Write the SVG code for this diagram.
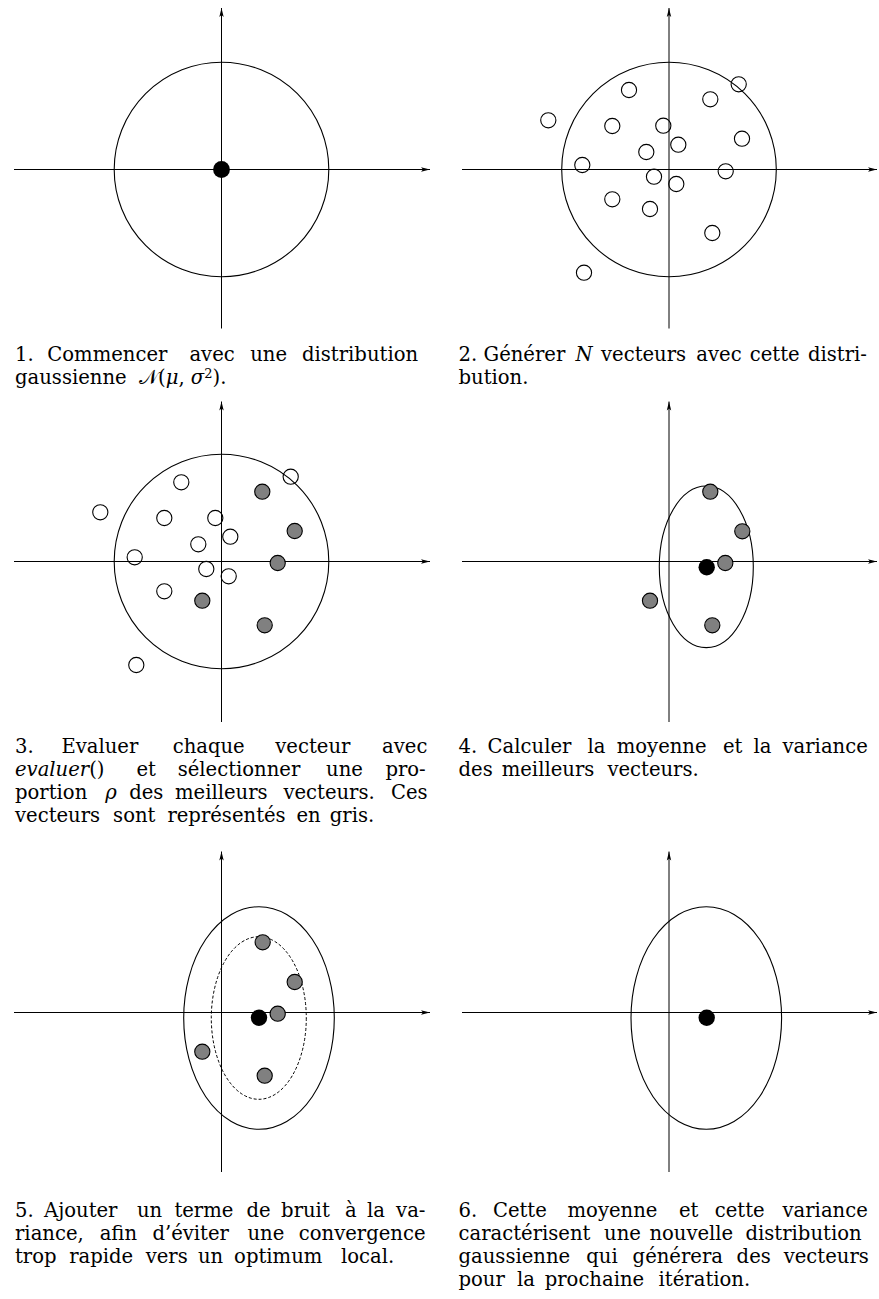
<svg xmlns="http://www.w3.org/2000/svg" width="879" height="1299" viewBox="0 0 879 1299">
<style>
.ax{stroke:#000;stroke-width:1;fill:none;marker-end:url(#arr)}
.big{stroke:#000;stroke-width:1.1;fill:none}
.dash{stroke:#000;stroke-width:1;fill:none;stroke-dasharray:3 2}
.o{stroke:#000;stroke-width:1.1;fill:none}
.g{stroke:#000;stroke-width:1.1;fill:#808080}
.b{fill:#000}
text{font-family:"DejaVu Serif","Liberation Serif",serif;font-size:19.6px;fill:#000}
.i{font-style:italic}
.cal{font-family:"DejaVu Serif","DejaVu Sans",serif;font-style:normal}
</style>
<defs>
<marker id="arr" viewBox="-10 -3 10 6" refX="0" refY="0" markerWidth="10" markerHeight="6" markerUnits="userSpaceOnUse" orient="auto"><path d="M0,0 L-9,-2.2 L-7,0 L-9,2.2 Z" fill="#000"/></marker>
</defs>
<rect width="879" height="1299" fill="#fff"/>

<g id="panel1">
<line class="ax" x1="14" y1="169.5" x2="430" y2="169.5"/>
<line class="ax" x1="221.5" y1="328.5" x2="221.5" y2="8"/>
<circle class="big" cx="221.5" cy="169.5" r="107.3"/>
<circle class="b" cx="221.5" cy="169.5" r="8.4"/>
</g>

<g id="panel2">
<line class="ax" x1="462" y1="169.5" x2="877" y2="169.5"/>
<line class="ax" x1="669" y1="328.5" x2="669" y2="8"/>
<circle class="big" cx="669" cy="169.5" r="107.3"/>
<circle class="o" cx="629" cy="90" r="7.6"/>
<circle class="o" cx="548.3" cy="120.3" r="7.6"/>
<circle class="o" cx="612.3" cy="126" r="7.6"/>
<circle class="o" cx="663.3" cy="125.7" r="7.6"/>
<circle class="o" cx="710.3" cy="99.3" r="7.6"/>
<circle class="o" cx="738.7" cy="84.3" r="7.6"/>
<circle class="o" cx="678.3" cy="144.7" r="7.6"/>
<circle class="o" cx="646.3" cy="152" r="7.6"/>
<circle class="o" cx="742" cy="138.7" r="7.6"/>
<circle class="o" cx="582.3" cy="165" r="7.6"/>
<circle class="o" cx="725.7" cy="171.3" r="7.6"/>
<circle class="o" cx="654" cy="176.7" r="7.6"/>
<circle class="o" cx="676.3" cy="184" r="7.6"/>
<circle class="o" cx="612.3" cy="199.3" r="7.6"/>
<circle class="o" cx="650" cy="209" r="7.6"/>
<circle class="o" cx="712.3" cy="233" r="7.6"/>
<circle class="o" cx="584" cy="272.7" r="7.6"/>
</g>

<g id="panel3">
<line class="ax" x1="14" y1="561.5" x2="430" y2="561.5"/>
<line class="ax" x1="221.5" y1="722" x2="221.5" y2="401.5"/>
<circle class="big" cx="221.5" cy="561.5" r="107.3"/>
<circle class="o" cx="181.3" cy="482.3" r="7.6"/>
<circle class="o" cx="290.7" cy="476.7" r="7.6"/>
<circle class="o" cx="100.3" cy="512.3" r="7.6"/>
<circle class="o" cx="164.3" cy="518" r="7.6"/>
<circle class="o" cx="215.3" cy="518" r="7.6"/>
<circle class="o" cx="230.3" cy="536.7" r="7.6"/>
<circle class="o" cx="198.3" cy="544.3" r="7.6"/>
<circle class="o" cx="134.7" cy="557.3" r="7.6"/>
<circle class="o" cx="206.3" cy="569" r="7.6"/>
<circle class="o" cx="228.7" cy="576.3" r="7.6"/>
<circle class="o" cx="164.3" cy="591.3" r="7.6"/>
<circle class="o" cx="136.3" cy="665" r="7.6"/>
<circle class="g" cx="262.3" cy="491.7" r="7.6"/>
<circle class="g" cx="294.7" cy="531" r="7.6"/>
<circle class="g" cx="277.7" cy="563" r="7.6"/>
<circle class="g" cx="202.3" cy="600.7" r="7.6"/>
<circle class="g" cx="264.7" cy="625.3" r="7.6"/>
</g>

<g id="panel4">
<line class="ax" x1="462" y1="561.5" x2="877" y2="561.5"/>
<line class="ax" x1="669" y1="722" x2="669" y2="401.5"/>
<ellipse class="big" cx="706.3" cy="566.8" rx="47" ry="80.8"/>
<circle class="g" cx="710.3" cy="491.7" r="7.6"/>
<circle class="g" cx="742.3" cy="531.3" r="7.6"/>
<circle class="g" cx="725.3" cy="563" r="7.6"/>
<circle class="g" cx="650" cy="600.7" r="7.6"/>
<circle class="g" cx="712.3" cy="625.3" r="7.6"/>
<circle class="b" cx="706.7" cy="567.3" r="8.2"/>
</g>

<g id="panel5">
<line class="ax" x1="14" y1="1012.5" x2="430" y2="1012.5"/>
<line class="ax" x1="221.5" y1="1172" x2="221.5" y2="851.5"/>
<ellipse class="big" cx="259" cy="1018" rx="75.3" ry="111.3"/>
<ellipse class="dash" cx="258.8" cy="1018" rx="47.5" ry="81.3"/>
<circle class="g" cx="262.7" cy="942.3" r="7.6"/>
<circle class="g" cx="294.7" cy="982" r="7.6"/>
<circle class="g" cx="277.7" cy="1013.7" r="7.6"/>
<circle class="g" cx="202.3" cy="1051.7" r="7.6"/>
<circle class="g" cx="264.7" cy="1075.7" r="7.6"/>
<circle class="b" cx="259" cy="1017.7" r="8.2"/>
</g>

<g id="panel6">
<line class="ax" x1="462" y1="1012.5" x2="877" y2="1012.5"/>
<line class="ax" x1="669" y1="1172" x2="669" y2="851.5"/>
<ellipse class="big" cx="706.3" cy="1018" rx="75.3" ry="111.3"/>
<circle class="b" cx="706.7" cy="1017.7" r="8.2"/>
</g>

<g id="caption1">
<text y="361"><tspan x="15">1.</tspan><tspan x="47.3">Commencer</tspan><tspan x="189.4">avec</tspan><tspan x="250.2">une</tspan><tspan x="302">distribution</tspan></text>
<text y="384"><tspan x="15">gaussienne</tspan><tspan x="139" class="cal">𝒩</tspan><tspan>(</tspan><tspan class="i">μ</tspan><tspan>, </tspan><tspan class="i">σ</tspan><tspan font-size="13" dy="-6">2</tspan><tspan dy="6">).</tspan></text>
</g>

<g id="caption2">
<text y="361"><tspan x="458.5">2.</tspan><tspan x="483.5">Générer</tspan><tspan x="575.4" class="i">N</tspan><tspan x="601">vecteurs</tspan><tspan x="696.3">avec</tspan><tspan x="749.8">cette</tspan><tspan x="808">distri-</tspan></text>
<text y="384"><tspan x="458.5">bution.</tspan></text>
</g>

<g id="caption3">
<text y="753"><tspan x="15">3.</tspan><tspan x="61.4">Evaluer</tspan><tspan x="172.7">chaque</tspan><tspan x="275.3">vecteur</tspan><tspan x="382.1">avec</tspan></text>
<text y="776"><tspan x="15" class="i">evaluer</tspan><tspan>()</tspan><tspan x="136.5">et</tspan><tspan x="177.7">sélectionner</tspan><tspan x="326.1">une</tspan><tspan x="385.4">pro-</tspan></text>
<text y="799"><tspan x="15">portion</tspan><tspan x="105.3" class="i">ρ</tspan><tspan x="129.2">des</tspan><tspan x="175">meilleurs</tspan><tspan x="283.4">vecteurs.</tspan><tspan x="391">Ces</tspan></text>
<text y="822"><tspan x="15">vecteurs</tspan><tspan x="113.1">sont</tspan><tspan x="167.4">représentés</tspan><tspan x="296.4">en</tspan><tspan x="329.8">gris.</tspan></text>
</g>

<g id="caption4">
<text y="753"><tspan x="458.5">4.</tspan><tspan x="487.6">Calculer</tspan><tspan x="587.6">la</tspan><tspan x="616.7">moyenne</tspan><tspan x="722.9">et</tspan><tspan x="753.4">la</tspan><tspan x="782.5">variance</tspan></text>
<text y="776"><tspan x="458.5">des</tspan><tspan x="501.7">meilleurs</tspan><tspan x="607.4">vecteurs.</tspan></text>
</g>

<g id="caption5">
<text y="1217"><tspan x="15">5.</tspan><tspan x="44">Ajouter</tspan><tspan x="137">un</tspan><tspan x="174.4">terme</tspan><tspan x="246.5">de</tspan><tspan x="281.1">bruit</tspan><tspan x="345">à</tspan><tspan x="367.1">la</tspan><tspan x="396.1">va-</tspan></text>
<text y="1240"><tspan x="15">riance,</tspan><tspan x="99.7">afin</tspan><tspan x="152.4">d’éviter</tspan><tspan x="247.5">une</tspan><tspan x="298.8">convergence</tspan></text>
<text y="1263"><tspan x="15">trop</tspan><tspan x="69.2">rapide</tspan><tspan x="145.7">vers</tspan><tspan x="198">un</tspan><tspan x="234.1">optimum</tspan><tspan x="341">local.</tspan></text>
</g>

<g id="caption6">
<text y="1217"><tspan x="458.5">6.</tspan><tspan x="492.9">Cette</tspan><tspan x="567.5">moyenne</tspan><tspan x="679">et</tspan><tspan x="714.8">cette</tspan><tspan x="782.5">variance</tspan></text>
<text y="1240"><tspan x="458.5">caractérisent</tspan><tspan x="604.1">une</tspan><tspan x="649.4">nouvelle</tspan><tspan x="745.5">distribution</tspan></text>
<text y="1263"><tspan x="458.5">gaussienne</tspan><tspan x="586.3">qui</tspan><tspan x="632.6">générera</tspan><tspan x="736.6">des</tspan><tspan x="783.7">vecteurs</tspan></text>
<text y="1286"><tspan x="458.5">pour</tspan><tspan x="516.9">la</tspan><tspan x="544.7">prochaine</tspan><tspan x="658.6">itération.</tspan></text>
</g>
</svg>
